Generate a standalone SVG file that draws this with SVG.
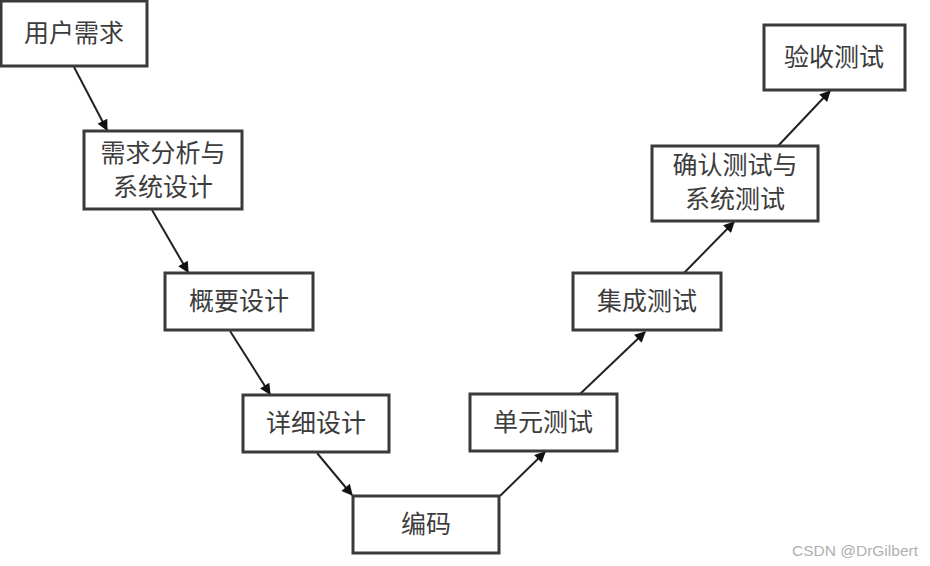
<svg xmlns="http://www.w3.org/2000/svg" width="930" height="566" viewBox="0 0 930 566">
<style>
.box{fill:#fff;stroke:#3a3a3a;stroke-width:3}
.t{font-family:"Noto Sans CJK SC","Liberation Serif",serif;font-size:25px;fill:#3c3c3c;text-anchor:middle}
.c{stroke:#222;stroke-width:2;fill:none;marker-end:url(#ah)}
.wm{font-family:"Liberation Sans",Arial,sans-serif;font-size:15.5px;fill:#b0b0b0}
</style>
<defs>
<marker id="ah" viewBox="0 0 10 10" refX="9" refY="5" markerWidth="13" markerHeight="11" orient="auto" markerUnits="userSpaceOnUse">
<path d="M0,0 L10,5 L0,10 z" fill="#111"/>
</marker>
</defs>
<rect width="930" height="566" fill="#fff"/>
<g id="connectors">
<line class="c" x1="74" y1="67" x2="107" y2="130"/>
<line class="c" x1="152" y1="210" x2="188" y2="272"/>
<line class="c" x1="230" y1="331" x2="270" y2="394"/>
<line class="c" x1="317" y1="453" x2="352" y2="495"/>
<line class="c" x1="500" y1="496" x2="545" y2="452"/>
<line class="c" x1="580" y1="394" x2="645" y2="332"/>
<line class="c" x1="684" y1="273" x2="734" y2="222"/>
<line class="c" x1="778" y1="146" x2="830" y2="91"/>
</g>
<g id="n1"><rect class="box" x="1" y="1" width="146" height="65"/><text class="t" x="74" y="42">用户需求</text></g>
<g id="n2"><rect class="box" x="84" y="131" width="158" height="78"/><text class="t" x="163" y="162">需求分析与</text><text class="t" x="163" y="196">系统设计</text></g>
<g id="n3"><rect class="box" x="165" y="273" width="148" height="57"/><text class="t" x="239" y="310">概要设计</text></g>
<g id="n4"><rect class="box" x="243" y="395" width="146" height="57"/><text class="t" x="316" y="432">详细设计</text></g>
<g id="n5"><rect class="box" x="353" y="496" width="146" height="57"/><text class="t" x="426" y="533">编码</text></g>
<g id="n6"><rect class="box" x="470" y="394" width="147" height="57"/><text class="t" x="543" y="431">单元测试</text></g>
<g id="n7"><rect class="box" x="573" y="273" width="148" height="57"/><text class="t" x="647" y="310">集成测试</text></g>
<g id="n8"><rect class="box" x="652" y="146" width="166" height="75"/><text class="t" x="735" y="174">确认测试与</text><text class="t" x="735" y="208">系统测试</text></g>
<g id="n9"><rect class="box" x="764" y="25" width="141" height="65"/><text class="t" x="834" y="66">验收测试</text></g>
<text class="wm" x="792" y="556">CSDN @DrGilbert</text>
</svg>
